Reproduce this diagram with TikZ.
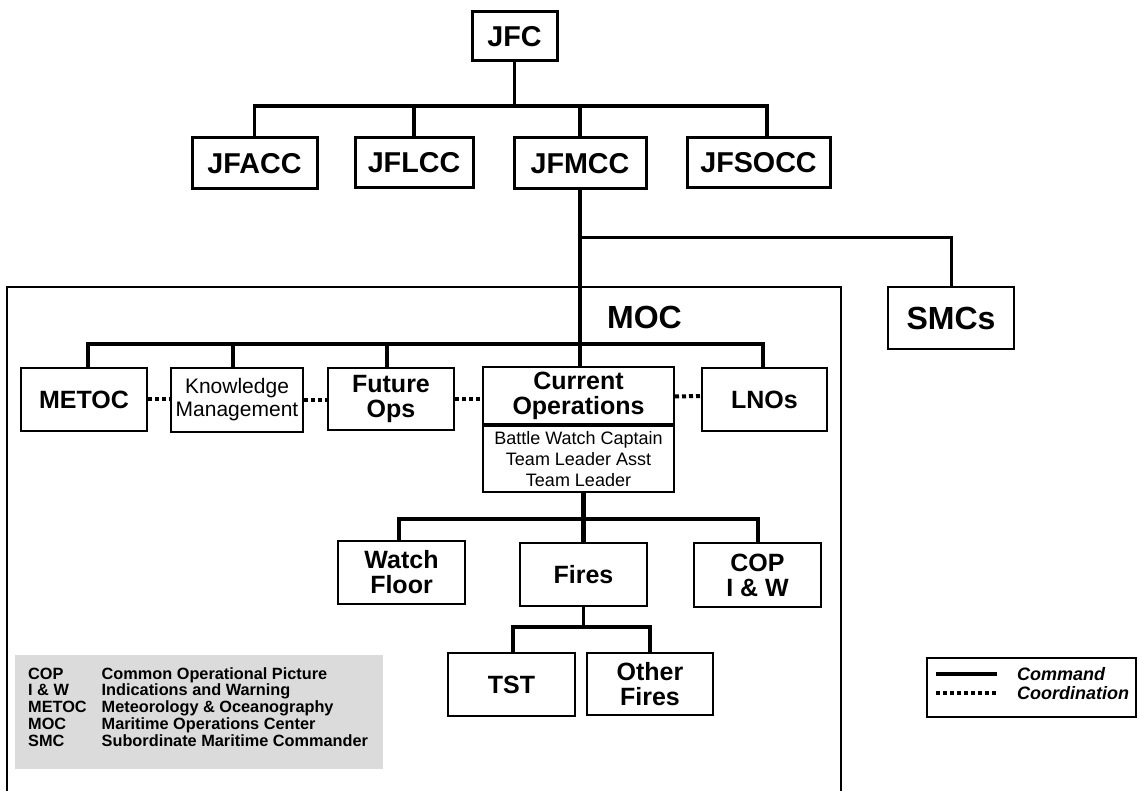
\documentclass[tikz,border=0pt]{standalone}
\usepackage{fontspec}
\setmainfont{Liberation Sans}
\usetikzlibrary{calc}
\begin{document}
\begin{tikzpicture}[x=1pt,y=-1pt,
  box/.style={draw, line width=2pt, inner sep=0pt, align=center,
    font=\fontsize{25}{25}\selectfont\bfseries},
  topbox/.style={box, line width=3pt, font=\fontsize{28.7}{30}\selectfont\bfseries},
  thinbox/.style={box, line width=1.6pt, font=\fontsize{21}{23}\selectfont},
  subbox/.style={box, font=\fontsize{18}{21}\selectfont},
  cmd/.style={line width=3.8pt},
  trunk/.style={line width=4.2pt},
  coord/.style={line width=4pt, dash pattern=on 4pt off 3pt},
  frame/.style={line width=2pt},
  legtxt/.style={inner sep=0pt, font=\fontsize{16.3}{16.3}\selectfont\bfseries},
  keytxt/.style={inner sep=0pt, font=\fontsize{18}{18}\selectfont\bfseries\itshape},
]
\useasboundingbox (0,0) rectangle (1138,791);
\fill[white] (0,0) rectangle (1138,791);

% ---- joint force commanders
\node[topbox, minimum width=85pt,  minimum height=49pt] (jfc)    at (514.5,36.5) {JFC};
\node[topbox, minimum width=125pt, minimum height=51pt] (jfacc)  at (254.5,163.5) {JFACC};
\node[topbox, minimum width=118pt, minimum height=50pt] (jflcc)  at (414,162.5) {JFLCC};
\node[topbox, minimum width=132pt, minimum height=51pt] (jfmcc)  at (580,163.5) {JFMCC};
\node[topbox, minimum width=143pt, minimum height=50pt] (jfsocc) at (758.5,163) {JFSOCC};
\node[box, line width=2.5pt, minimum width=126pt, minimum height=62pt,
      font=\fontsize{32}{32}\selectfont\bfseries] (smcs) at (951,318) {SMCs};

\coordinate (busL) at (254.5,106);
\coordinate (busR) at (767,106);
\draw[cmd] (jfc.south) -- (jfc.south |- busL);
\draw[cmd] (jfacc.north) -- (busL) -- (busR) -- (busR |- jfsocc.north);
\draw[cmd] (jflcc.north) -- (jflcc.north |- busL);
\draw[cmd] (jfmcc.north) -- (jfmcc.north |- busL);

% ---- maritime operations center frame
\draw[frame] (7,792) -- (7,287) -- (841,287) -- (841,792);
\node[inner sep=0pt, font=\fontsize{32}{32}\selectfont\bfseries] (moc) at (644.5,317) {MOC};

% ---- MOC staff row
\node[box, minimum width=126pt, minimum height=63pt] (metoc) at (84,399.5) {METOC};
\node[thinbox, minimum width=132pt, minimum height=64pt] (km) at (237,400) {Knowledge\\Management};
\node[box, minimum width=126pt, minimum height=62pt] (fut) at (391,399) {Future\\Ops};
\node[box, minimum width=191pt, minimum height=57pt] (cur) at (578.5,395.5) {Current\\Operations};
\node[subbox, minimum width=191pt, minimum height=66pt, anchor=north] (bwc) at (cur.south)
  {Battle Watch Captain\\Team Leader Asst\\Team Leader};
\node[box, minimum width=125pt, minimum height=63pt] (lnos) at (764.5,399.5) {LNOs};

% trunk from JFMCC through the MOC, branch to the SMCs
\coordinate (smcj) at (580,238);
\draw[trunk] (jfmcc.south) -- (jfmcc.south |- cur.north);
\draw[line width=3pt] (smcj) -| (smcs.north);

\coordinate (mbusL) at (88,344);
\coordinate (mbusR) at (763,344);
\draw[cmd] (mbusL |- metoc.north) -- (mbusL) -- (mbusR) -- (mbusR |- lnos.north);
\draw[cmd] (233,344) -- (233,0 |- km.north);
\draw[cmd] (387,344) -- (387,0 |- fut.north);

% coordination links
\draw[coord] (metoc.east) -- (metoc.east -| km.west);
\draw[coord] (km.east) -- (km.east -| fut.west);
\draw[coord] (fut.east) -- (fut.east -| cur.west);
\draw[coord] (cur.east |- lnos.west) ++(0,-3) -- (lnos.west |- 0,396);

% ---- current operations cells
\node[box, minimum width=127pt, minimum height=63pt] (watch) at (401.5,572.5) {Watch\\Floor};
\node[box, minimum width=127pt, minimum height=63pt] (fires) at (583.5,574.5) {Fires};
\node[box, minimum width=127pt, minimum height=64pt] (cop)   at (757.5,575) {COP\\I \& W};
\node[box, minimum width=127pt, minimum height=63pt] (tst)   at (511.5,684.5) {TST};
\node[box, minimum width=126pt, minimum height=62pt] (other) at (650,684) {Other\\Fires};

\coordinate (cbusL) at (399,519);
\coordinate (cbusR) at (758,519);
\draw[trunk] (fires.north |- bwc.south) -- (fires.north);
\draw[cmd] (cbusL |- watch.north) -- (cbusL) -- (cbusR) -- (cbusR |- cop.north);

\coordinate (fbusL) at (513,627);
\coordinate (fbusR) at (650,627);
\draw[cmd] (fires.south) -- (fires.south |- fbusL);
\draw[cmd] (fbusL |- tst.north) -- (fbusL) -- (fbusR) -- (other.north);

% ---- abbreviations
\fill[black!14] (15,655) rectangle (383,769);
\foreach \ab/\full [count=\i from 0] in {COP/Common Operational Picture,
    I \& W/Indications and Warning, METOC/Meteorology \& Oceanography,
    MOC/Maritime Operations Center, SMC/Subordinate Maritime Commander}{
  \node[legtxt, anchor=base west] (ab\i) at (28,679+16.9*\i) {\ab};
  \node[legtxt, anchor=base west] (fl\i) at (101.5,679+16.9*\i) {\full};
}

% ---- line key
\node[draw, line width=2pt, minimum width=209pt, minimum height=59pt, inner sep=0pt] (key) at (1031.5,687.5) {};
\coordinate (k1a) at (936,674);
\coordinate (k1b) at (997,674);
\coordinate (k2a) at (936,693);
\coordinate (k2b) at (997,693);
\draw[line width=4pt] (k1a) -- (k1b);
\draw[line width=3.5pt, dash pattern=on 4pt off 3pt] (k2a) -- (k2b);
\node[keytxt, anchor=west] (kc1) at (1017,674) {Command};
\node[keytxt, anchor=west] (kc2) at (1017,693) {Coordination};
\end{tikzpicture}
\end{document}
